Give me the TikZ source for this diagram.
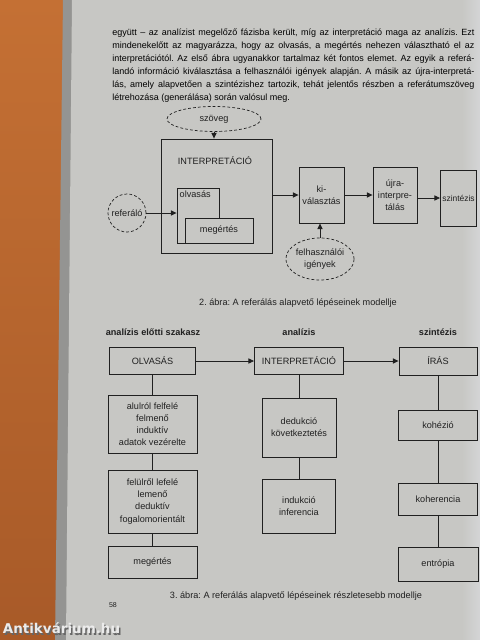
\documentclass[tikz,border=0pt]{standalone}
\usepackage{fontspec}
\setmainfont{Liberation Sans}
\newfontfamily\markfont{DejaVu Sans}
\usetikzlibrary{arrows.meta}
\usetikzlibrary{shapes.geometric}
\definecolor{wood}{RGB}{196,112,52}
\definecolor{woodDark}{RGB}{168,90,40}
\definecolor{paper}{RGB}{199,199,196}
\definecolor{paperLight}{RGB}{212,213,214}
\definecolor{paperEdge}{RGB}{148,148,146}
\definecolor{ink}{RGB}{32,32,32}
\newcommand{\bodyfont}{\fontsize{6.4}{9.6}\selectfont}
\newcommand{\diagfont}{\fontsize{6.5}{8.6}\selectfont}
\def\px{0.025cm}
\frenchspacing
\tikzset{
  box/.style = {draw=#1, line width=0.6pt, fill=paper, inner sep=1pt, align=center, font=\diagfont, text=#1},
  oval/.style = {draw=#1, line width=0.5pt, dash pattern=on 2pt off 1.5pt, ellipse, inner sep=0pt, align=center, font=\diagfont, text=#1},
  ring/.style = {draw=#1, line width=0.5pt, dash pattern=on 2pt off 1.5pt, circle, inner sep=0pt, align=center, font=\diagfont, text=#1},
  flow/.style = {color=#1, line width=0.6pt, -{Triangle[length=4pt,width=3.6pt]}},
  link/.style = {color=#1, line width=0.6pt},
  textline/.style = {anchor=west, inner sep=0pt, font=\bodyfont, text=#1},
  figcap/.style = {inner sep=0pt, font=\diagfont, text=#1},
  header/.style = {inner sep=0pt, font=\diagfont\bfseries, text=#1}
}

\begin{document}
\begin{tikzpicture}[x=\px, y=-\px]
    \useasboundingbox (0,0) rectangle (480,640);

    %==== Background ====
    \shade[top color=wood, bottom color=woodDark] (0,0) rectangle (70,640);
    \fill[paperEdge] (63,0) -- (480,0) -- (480,640) -- (55,640) -- cycle;
    \fill[paper] (72,0) -- (480,0) -- (480,640) -- (66,640) -- cycle;
    \shade[left color=paper, right color=paperLight] (462,0) rectangle (480,640);

    %==== Body text ====
    \node[textline={black}] (line1) at (112,33) {\makebox[9.05cm][s]{együtt – az analízist megelőző fázisba került, míg az interpretáció maga az analízis. Ezt}};
    \node[textline={black}] (line2) at (112,46) {\makebox[9.05cm][s]{mindenekelőtt az magyarázza, hogy az olvasás, a megértés nehezen választható el az}};
    \node[textline={black}] (line3) at (112,59) {\makebox[9.05cm][s]{interpretációtól. Az első ábra ugyanakkor tartalmaz két fontos elemet. Az egyik a referá-}};
    \node[textline={black}] (line4) at (112,72) {\makebox[9.05cm][s]{landó információ kiválasztása a felhasználói igények alapján. A másik az újra-interpretá-}};
    \node[textline={black}] (line5) at (112,85) {\makebox[9.05cm][s]{lás, amely alapvetően a szintézishez tartozik, tehát jelentős részben a referátumszöveg}};
    \node[textline={black}] (line6) at (112,98) {létrehozása (generálása) során valósul meg.};

    %==== 2. ábra ====
    \begin{scope}
        % Body
        \node[oval={ink}, minimum width=94*\px, minimum height=25*\px] (szoveg) at (214,119) {szöveg};
        \node[box={ink}, minimum width=111*\px, minimum height=114*\px] (interp) at (216.5,196) {};
        \node[figcap={ink}] (interpTitle) at (215,161) {INTERPRETÁCIÓ};
        \node[box={ink}, minimum width=42*\px, minimum height=55*\px] (olvas) at (198,215.5) {};
        \node[figcap={ink}, anchor=north west, inner sep=2pt] (olvasTitle) at (olvas.north west) {olvasás};
        \node[box={ink}, minimum width=68*\px, minimum height=25*\px] (megert) at (219,230.5) {megértés};
        \node[ring={ink}, minimum size=38*\px] (referalo) at (127,213) {referáló};
        \node[box={ink}, minimum width=45*\px, minimum height=56*\px] (kival) at (321.5,195) {ki-\\választás};
        \node[oval={ink}, minimum width=66*\px, minimum height=42*\px] (igenyek) at (320,259) {felhasználói\\igények};
        \node[box={ink}, minimum width=44*\px, minimum height=56*\px] (ujra) at (395,195) {újra-\\interpre-\\tálás};
        \node[box={ink}, minimum width=36*\px, minimum height=56*\px, font=\fontsize{6}{8}\selectfont] (szint) at (458.5,198) {szintézis};

        % Connectors
        \draw[flow={ink}] (szoveg) -- (szoveg |- interp.north);
        \draw[flow={ink}] (referalo) -- (referalo -| olvas.west);
        \draw[flow={ink}] (interp.east |- kival) -- (kival.west);
        \draw[flow={ink}] (igenyek) -- (igenyek |- kival.south);
        \draw[flow={ink}] (kival) -- (ujra);
        \draw[flow={ink}] (ujra.east |- szint) -- (szint.west);

        % Caption
        \node[figcap={ink}] (cap2) at (298,303) {2. ábra: A referálás alapvető lépéseinek modellje};
    \end{scope}

    %==== 3. ábra ====
    \begin{scope}
        % Headers
        \node[header={ink}] (hPre) at (153,332) {analízis előtti szakasz};
        \node[header={ink}] (hAna) at (299,332) {analízis};
        \node[header={ink}] (hSzin) at (438,332) {szintézis};

        % Main steps
        \node[box={ink}, minimum width=86*\px, minimum height=27*\px] (olv) at (152.5,361) {OLVASÁS};
        \node[box={ink}, minimum width=89*\px, minimum height=27*\px] (int) at (299,361) {INTERPRETÁCIÓ};
        \node[box={ink}, minimum width=78*\px, minimum height=28*\px] (iras) at (438,361) {ÍRÁS};

        % Sub steps
        \node[box={ink}, minimum width=89*\px, minimum height=58*\px] (alul) at (152.5,424) {alulról felfelé\\felmenő\\induktív\\adatok vezérelte};
        \node[box={ink}, minimum width=89*\px, minimum height=63*\px] (felul) at (152.5,501.5) {felülről lefelé\\lemenő\\deduktív\\fogalomorientált};
        \node[box={ink}, minimum width=89*\px, minimum height=32*\px] (megert3) at (152.5,562) {megértés};
        \node[box={ink}, minimum width=74*\px, minimum height=59*\px] (ded) at (299,427.5) {dedukció\\következtetés};
        \node[box={ink}, minimum width=73*\px, minimum height=54*\px] (ind) at (299,506) {indukció\\inferencia};
        \node[box={ink}, minimum width=79*\px, minimum height=30*\px] (koh) at (438,425) {kohézió};
        \node[box={ink}, minimum width=79*\px, minimum height=32*\px] (koher) at (438,499) {koherencia};
        \node[box={ink}, minimum width=80*\px, minimum height=34*\px] (entr) at (438,564) {entrópia};

        % Connectors
        \draw[flow={ink}] (olv) -- (int);
        \draw[flow={ink}] (int) -- (iras);
        \draw[link={ink}] (olv) -- (alul);
        \draw[link={ink}] (alul) -- (felul);
        \draw[link={ink}] (felul) -- (megert3);
        \draw[link={ink}] (int) -- (ded);
        \draw[link={ink}] (ded) -- (ind);
        \draw[link={ink}] (iras) -- (koh);
        \draw[link={ink}] (koh) -- (koher);
        \draw[link={ink}] (koher) -- (entr);

        % Caption
        \node[figcap={ink}] (cap3) at (296,596) {3. ábra: A referálás alapvető lépéseinek részletesebb modellje};
    \end{scope}

    %==== Page number and watermark ====
    \node[figcap={ink}, font=\fontsize{5}{6}\selectfont] (pageNum) at (113,605) {58};
    \node[inner sep=0pt, font=\markfont\bfseries\fontsize{9.6}{11}\selectfont, text=black!60] (markShadow) at (63,630) {Antikvárium.hu};
    \node[inner sep=0pt, font=\markfont\bfseries\fontsize{9.6}{11}\selectfont, text=white!92!black] (mark) at (61.5,628.5) {Antikvárium.hu};
\end{tikzpicture}
\end{document}
